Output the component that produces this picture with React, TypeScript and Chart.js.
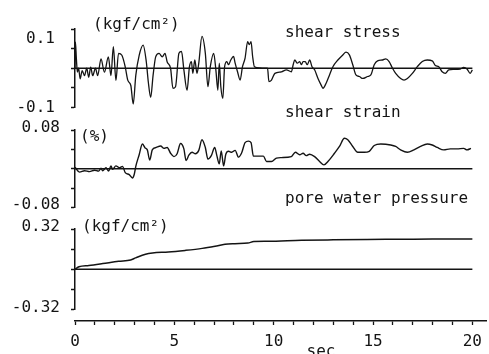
import React, { useEffect, useRef } from "react";
import { Chart, registerables } from "chart.js";

Chart.register(...registerables);

// ---- data (time in sec) ----
const stressT = [
  0, 0.02, 0.07, 0.12, 0.18, 0.26, 0.36, 0.48, 0.59, 0.69,
  0.79, 0.89, 1.03, 1.14, 1.31, 1.48, 1.68, 1.81, 1.93, 2.06,
  2.19, 2.36, 2.53, 2.66, 2.81, 2.93, 3.06, 3.23, 3.43, 3.59,
  3.69, 3.81, 3.93, 4.06, 4.23, 4.39, 4.53, 4.64, 4.81, 4.93,
  5.06, 5.23, 5.36, 5.48, 5.64, 5.76, 5.86, 5.93, 6.03, 6.14,
  6.23, 6.39, 6.56, 6.69, 6.81, 6.98, 7.09, 7.19, 7.26, 7.34,
  7.44, 7.53, 7.64, 7.73, 7.84, 7.98, 8.06, 8.18, 8.31, 8.43,
  8.56, 8.69, 8.77, 8.86, 8.94, 9.03, 9.3, 9.56, 9.69, 9.76,
  9.89, 10.06, 10.39, 10.64, 10.89, 10.98, 11.06, 11.19, 11.31, 11.39,
  11.48, 11.59, 11.69, 11.81, 11.93, 12.06, 12.23, 12.39, 12.48, 12.64,
  12.81, 12.98, 13.23, 13.48, 13.64, 13.81, 13.98, 14.14, 14.31, 14.48,
  14.73, 14.89, 15.06, 15.23, 15.48, 15.64, 15.81, 15.98, 16.14, 16.39,
  16.56, 16.73, 16.98, 17.23, 17.48, 17.73, 17.98, 18.14, 18.31, 18.48,
  18.64, 18.81, 19.06, 19.39, 19.56, 19.73, 19.89, 20.0,
];
const stressV = [
  0, 0.067, 0.024, -0.01, 0.0, -0.027, -0.006, -0.019, 0.0, -0.023,
  0.003, -0.019, 0.0, -0.019, 0.024, -0.01, 0.029, -0.019, 0.055, -0.031,
  0.038, 0.033, 0.003, -0.031, -0.044, -0.091, -0.018, 0.033, 0.059, 0.016,
  -0.035, -0.074, -0.018, 0.029, 0.038, 0.029, 0.038, 0.016, 0.0, -0.051,
  -0.047, 0.038, 0.043, -0.004, -0.056, 0.004, 0.017, -0.013, 0.021, -0.013,
  0.013, 0.081, 0.038, -0.047, 0.004, 0.038, -0.004, -0.056, 0.013, -0.047,
  -0.077, 0.004, 0.017, 0.009, 0.021, 0.03, 0.013, -0.009, -0.03, 0.004,
  0.026, 0.068, 0.06, 0.068, 0.03, 0.004, 0.001, 0.0, 0.0, -0.034,
  -0.03, -0.013, -0.009, -0.004, -0.009, 0.009, 0.021, 0.013, 0.017, 0.009,
  0.017, 0.017, 0.009, 0.021, 0.004, -0.004, -0.026, -0.043, -0.051, -0.038,
  -0.017, 0.004, 0.021, 0.034, 0.041, 0.034, 0.009, -0.017, -0.021, -0.026,
  -0.021, -0.017, 0.009, 0.019, 0.021, 0.024, 0.017, 0.0, -0.013, -0.026,
  -0.03, -0.026, -0.013, 0.004, 0.017, 0.021, 0.019, 0.007, 0.004, -0.009,
  -0.013, -0.004, -0.003, -0.002, 0.002, -0.002, -0.013, -0.004,
];

const strainT = [
  0, 0.23, 0.48, 0.73, 0.98, 1.19, 1.31, 1.39, 1.56, 1.69,
  1.81, 1.89, 2.06, 2.23, 2.39, 2.53, 2.73, 2.89, 2.98, 3.06,
  3.23, 3.39, 3.53, 3.64, 3.76, 3.89, 4.09, 4.31, 4.48, 4.64,
  4.81, 4.98, 5.14, 5.31, 5.48, 5.59, 5.73, 5.89, 6.06, 6.23,
  6.39, 6.56, 6.69, 6.86, 7.03, 7.14, 7.26, 7.36, 7.48, 7.59,
  7.73, 7.89, 8.06, 8.23, 8.39, 8.56, 8.73, 8.86, 8.98, 9.23,
  9.48, 9.64, 9.89, 10.14, 10.39, 10.89, 11.09, 11.31, 11.48, 11.64,
  11.81, 12.06, 12.31, 12.53, 12.73, 13.06, 13.31, 13.56, 13.73, 13.98,
  14.23, 14.56, 14.81, 15.06, 15.39, 15.89, 16.14, 16.39, 16.73, 17.06,
  17.39, 17.73, 17.98, 18.23, 18.56, 18.89, 19.23, 19.56, 19.73, 19.93,
];
const strainV = [
  0.003, -0.007, -0.004, -0.006, -0.003, -0.005, 0.001, -0.004, 0.002, -0.005,
  0.006, -0.001, 0.006, 0.002, 0.005, -0.008, -0.012, -0.019, -0.012, 0.005,
  0.029, 0.051, 0.043, 0.039, 0.018, 0.039, 0.044, 0.047, 0.042, 0.044,
  0.032, 0.025, 0.031, 0.052, 0.041, 0.017, 0.028, 0.034, 0.031, 0.038,
  0.06, 0.044, 0.02, 0.027, 0.044, 0.027, 0.01, 0.037, 0.006, 0.03,
  0.036, 0.034, 0.038, 0.024, 0.033, 0.054, 0.057, 0.054, 0.026, 0.026,
  0.026, 0.015, 0.015, 0.022, 0.023, 0.025, 0.034, 0.029, 0.032, 0.027,
  0.03, 0.025, 0.015, 0.008, 0.015, 0.032, 0.046, 0.063, 0.06, 0.046,
  0.034, 0.034, 0.036, 0.048, 0.051, 0.049, 0.046, 0.039, 0.034, 0.039,
  0.046, 0.051, 0.049, 0.044, 0.039, 0.041, 0.041, 0.042, 0.039, 0.042,
];

const poreT = [0, 0.2, 0.7, 1.4, 2.2, 2.8, 3.05, 3.55, 3.9, 4.7, 5.55, 6.4, 7.05, 7.55, 8.05, 8.7, 9.0, 9.7, 11.4, 13.0, 14.7, 16.4, 18.0, 20.0];
const poreV = [0, 0.02, 0.03, 0.045, 0.063, 0.073, 0.09, 0.12, 0.13, 0.137, 0.15, 0.166, 0.183, 0.198, 0.203, 0.208, 0.22, 0.222, 0.23, 0.234, 0.237, 0.238, 0.24, 0.24];

const zeroT = [0, 20];
const zeroV = [0, 0];

const xTickVals = [0, 1, 2, 3, 4, 5, 6, 7, 8, 9, 10, 11, 12, 13, 14, 15, 16, 17, 18, 19, 20];
const xLabelVals = [0, 5, 10, 15, 20];

const stressRange = [-0.1, 0.1];
const stressTicks = [-0.1, -0.05, 0, 0.05, 0.075, 0.1];
const stressLabelAt = [-0.1, 0.075];
const stressLabelText = ["-0.1", "0.1"];
const stressNoMark = [0.075];

const strainRange = [-0.08, 0.08];
const strainTicks = [-0.08, -0.04, 0, 0.04, 0.08];
const strainLabelAt = [-0.08, 0.08];
const strainLabelText = ["-0.08", "0.08"];

const poreRange = [-0.32, 0.32];
const poreTicks = [-0.32, -0.16, 0, 0.16, 0.32];
const poreLabelAt = [-0.32, 0.32];
const poreLabelText = ["-0.32", "0.32"];

const INK = "#141414";
const FONT = "'DejaVu Sans Mono', 'Liberation Mono', monospace";

const textPlugin = {
  id: "panelTexts",
  afterDraw(chart: any) {
    const ctx = chart.ctx as CanvasRenderingContext2D;
    ctx.save();
    ctx.fillStyle = INK;
    ctx.font = `16px ${FONT}`;
    ctx.textBaseline = "alphabetic";
    ctx.textAlign = "left";
    ctx.fillText("(kgf/cm\u00b2)", 93, 29);
    ctx.fillText("shear stress", 285, 37);
    ctx.fillText("(%)", 80, 141);
    ctx.fillText("shear strain", 285, 117);
    ctx.fillText("pore water pressure", 285, 203);
    ctx.fillText("(kgf/cm\u00b2)", 82, 231);
    ctx.textAlign = "center";
    ctx.fillText("sec", 321, 356);
    ctx.restore();
  },
};

export default function App() {
  const ref = useRef<HTMLCanvasElement>(null);

  useEffect(() => {
    const canvas = ref.current!;
    const pts = (t: number[], v: number[]) => t.map((x, i) => ({ x, y: v[i] }));
    const series = (label: string, t: number[], v: number[], axis: string, w = 1.4) => ({
      label,
      data: pts(t, v),
      yAxisID: axis,
      borderColor: INK,
      borderWidth: w,
      pointRadius: 0,
      fill: false,
      tension: 0,
      cubicInterpolationMode: "monotone" as const,
    });

    const dataAxis = (
      weight: number,
      stackWeight: number,
      range: number[],
      tickVals: number[],
      labelAt: number[],
      labelText: string[],
      noMark: number[],
      padding: number,
      labelOffset: number
    ) => ({
      type: "linear" as const,
      position: "left" as const,
      stack: "panels",
      stackWeight,
      weight,
      min: range[0],
      max: range[1],
      afterBuildTicks: (s: any) => {
        s.ticks = tickVals.map((value) => ({ value }));
      },
      afterFit: (s: any) => {
        s.width = 75;
      },
      border: { display: true, color: INK, width: 1.5 },
      grid: {
        display: true,
        drawOnChartArea: false,
        drawTicks: true,
        tickLength: 4,
        tickWidth: 1.5,
        tickColor: (c: any) =>
          c.tick && noMark.indexOf(c.tick.value) >= 0 ? "rgba(0,0,0,0)" : INK,
      },
      ticks: {
        autoSkip: false,
        padding,
        labelOffset,
        color: INK,
        font: { family: FONT, size: 16 },
        callback: (v: any) => {
          const i = labelAt.indexOf(v);
          return i >= 0 ? labelText[i] : "";
        },
      },
    });

    const spacer = (weight: number, stackWeight: number) => ({
      type: "linear" as const,
      position: "left" as const,
      stack: "panels",
      stackWeight,
      weight,
      min: 0,
      max: 1,
      display: true,
      border: { display: false },
      grid: { display: false },
      ticks: { display: false },
      afterFit: (s: any) => {
        s.width = 75;
      },
    });

    const chart = new Chart(canvas, {
      type: "line",
      data: {
        datasets: [
          series("shear stress", stressT, stressV, "yStress", 1.3),
          series("stress zero", zeroT, zeroV, "yStress", 1.5),
          series("shear strain", strainT, strainV, "yStrain", 1.4),
          series("strain zero", zeroT, zeroV, "yStrain", 1.5),
          series("pore water pressure", poreT, poreV, "yPore", 1.5),
          series("pore zero", zeroT, zeroV, "yPore", 1.5),
        ] as any,
      },
      options: {
        responsive: false,
        animation: false,
        layout: { padding: { top: 29, left: 0, right: 0, bottom: 0 } },
        plugins: {
          legend: { display: false },
          tooltip: { enabled: false },
          title: { display: false },
        },
        scales: {
          x: {
            type: "linear",
            position: "bottom",
            min: 0,
            max: 20.7,
            afterBuildTicks: (s: any) => {
              s.ticks = xTickVals.map((value) => ({ value }));
            },
            afterFit: (s: any) => {
              s.height = 33;
            },
            border: { display: true, color: INK, width: 1.5 },
            grid: {
              display: true,
              drawOnChartArea: false,
              tickLength: 4,
              tickWidth: 1.3,
              tickColor: INK,
            },
            ticks: {
              autoSkip: false,
              maxRotation: 0,
              padding: 7,
              color: INK,
              font: { family: FONT, size: 16 },
              callback: (v: any) => (xLabelVals.indexOf(v) >= 0 ? String(v) : ""),
            },
          },
          yStress: dataAxis(6, 78.5, stressRange, stressTicks, stressLabelAt, stressLabelText, stressNoMark, 16, 0),
          gap1: spacer(5, 22.5),
          yStrain: dataAxis(4, 77.5, strainRange, strainTicks, strainLabelAt, strainLabelText, [], 11, -2.5),
          gap2: spacer(3, 21.5),
          yPore: dataAxis(2, 80.5, poreRange, poreTicks, poreLabelAt, poreLabelText, [], 11, -2),
          gap3: spacer(1, 11.5),
        } as any,
      },
      plugins: [textPlugin],
    });

    return () => chart.destroy();
  }, []);

  return (
    <div style={{ position: "absolute", left: 0, top: 0, width: 489, height: 354, background: "#fff" }}>
      <canvas ref={ref} width={489} height={354} style={{ display: "block" }} />
    </div>
  );
}
